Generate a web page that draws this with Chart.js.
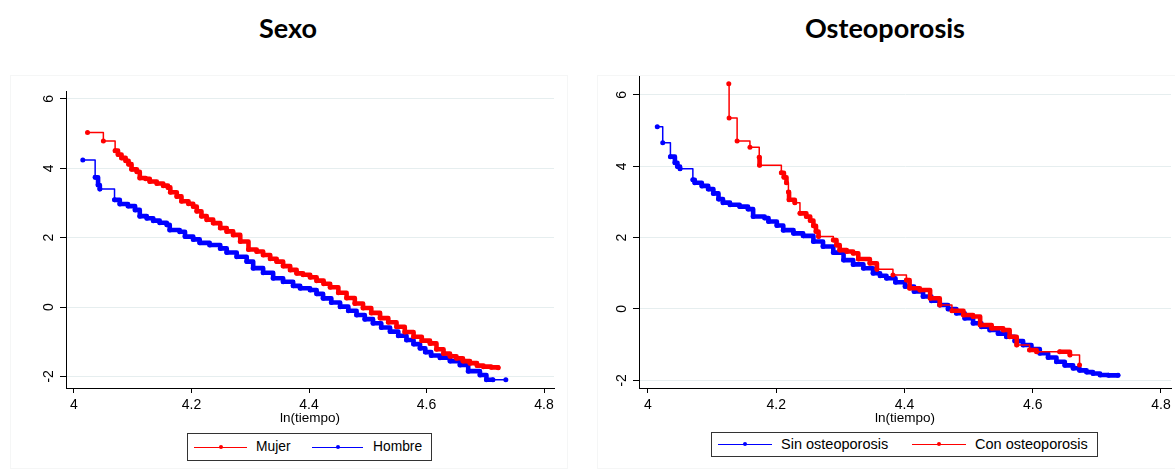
<!DOCTYPE html>
<html>
<head>
<meta charset="utf-8">
<script src="https://cdn.jsdelivr.net/npm/chart.js@4.4.1/dist/chart.umd.min.js"></script>
<style>
  html, body { margin: 0; padding: 0; background: #fff; }
  body { width: 1175px; height: 472px; position: relative; overflow: hidden; font-family: "Liberation Sans", Arial, sans-serif; }
  .frame { position: absolute; border: 1px solid #f5f6f6; box-sizing: border-box; }
  .title { position: absolute; top: 14px; font: bold 27px Lato, sans-serif; line-height: 27px; text-align: center; color: #000; }
  canvas { position: absolute; top: 0; }
  .legend { position: absolute; border: 1px solid #333; box-sizing: border-box; background: #fff; }
  .key { position: absolute; height: 0; border-top: 1.5px solid; }
  .key::after { content: ""; position: absolute; left: 50%; top: -3px; width: 4px; height: 4px; margin-left: -2px; border-radius: 50%; background: currentColor; }
  .lbl { position: absolute; line-height: 16px; color: #000; white-space: nowrap; }
</style>
</head>
<body>
<div class="frame" style="left:10px; top:75px; width:558px; height:394px;"></div>
<div class="frame" style="left:597px; top:75px; width:590px; height:394px;"></div>

<div class="title" style="left:0; width:576px;">Sexo</div>
<div class="title" style="left:598px; width:574px;">Osteoporosis</div>

<canvas id="sexo" width="587" height="430" style="left:0;"></canvas>
<canvas id="osteo" width="588" height="430" style="left:587px;"></canvas>

<div class="legend" style="left:187px; top:433px; width:245px; height:28px; font-size:13.8px;">
  <span class="key" style="left:6px; top:13px; width:53px; color:#ff0000;"></span>
  <span class="lbl" style="left:68px; top:5px;">Mujer</span>
  <span class="key" style="left:124px; top:13px; width:51px; color:#0000ff;"></span>
  <span class="lbl" style="left:185px; top:5px;">Hombre</span>
</div>
<div class="legend" style="left:711px; top:432px; width:387px; height:25px; font-size:14.5px;">
  <span class="key" style="left:6px; top:11px; width:54px; color:#0000ff;"></span>
  <span class="lbl" style="left:69px; top:3px;">Sin osteoporosis</span>
  <span class="key" style="left:200px; top:11px; width:54px; color:#ff0000;"></span>
  <span class="lbl" style="left:263px; top:3px;">Con osteoporosis</span>
</div>

<script>
// -ln(-ln S) against ln(tiempo)
const mujerX = [4.023, 4.050, 4.070, 4.075, 4.081, 4.088, 4.093, 4.098, 4.107, 4.112,
  4.122, 4.129, 4.141, 4.152, 4.160, 4.164, 4.175, 4.183, 4.195, 4.203,
  4.209, 4.217, 4.226, 4.237, 4.249, 4.260, 4.271, 4.283, 4.297, 4.311,
  4.322, 4.334, 4.345, 4.356, 4.368, 4.379, 4.390, 4.402, 4.413, 4.425,
  4.436, 4.450, 4.464, 4.478, 4.492, 4.506, 4.521, 4.535, 4.549, 4.563,
  4.578, 4.592, 4.606, 4.617, 4.629, 4.640, 4.651, 4.662, 4.674, 4.686,
  4.697, 4.710, 4.722]
const mujerY = [5.03, 4.79, 4.51, 4.40, 4.30, 4.22, 4.12, 3.97, 3.90, 3.72,
  3.70, 3.62, 3.56, 3.50, 3.45, 3.31, 3.19, 3.05, 2.98, 2.90,
  2.76, 2.62, 2.52, 2.42, 2.28, 2.18, 2.08, 1.89, 1.66, 1.60,
  1.50, 1.39, 1.31, 1.18, 1.07, 0.97, 0.93, 0.86, 0.76, 0.67,
  0.57, 0.41, 0.26, 0.10, -0.03, -0.17, -0.32, -0.44, -0.57, -0.72,
  -0.86, -0.97, -1.05, -1.22, -1.34, -1.42, -1.48, -1.56, -1.62, -1.69,
  -1.72, -1.74, -1.75]

const hombreX = [4.015, 4.036, 4.041, 4.044, 4.069, 4.078, 4.092, 4.104, 4.112, 4.124,
  4.135, 4.146, 4.158, 4.163, 4.180, 4.189, 4.203, 4.214, 4.231, 4.249,
  4.260, 4.277, 4.294, 4.305, 4.322, 4.339, 4.356, 4.373, 4.385, 4.402,
  4.413, 4.424, 4.438, 4.453, 4.467, 4.481, 4.495, 4.509, 4.523, 4.538,
  4.552, 4.566, 4.578, 4.589, 4.598, 4.608, 4.623, 4.640, 4.657, 4.671,
  4.691, 4.702, 4.713, 4.735]
const hombreY = [4.24, 3.74, 3.52, 3.40, 3.09, 2.97, 2.91, 2.80, 2.62, 2.56,
  2.49, 2.43, 2.37, 2.22, 2.17, 2.03, 1.95, 1.85, 1.79, 1.69,
  1.57, 1.45, 1.31, 1.12, 0.99, 0.83, 0.73, 0.61, 0.54, 0.49,
  0.38, 0.25, 0.13, 0.01, -0.11, -0.23, -0.35, -0.47, -0.59, -0.71,
  -0.83, -0.95, -1.07, -1.19, -1.30, -1.40, -1.46, -1.56, -1.67, -1.85,
  -1.96, -2.10, -2.10, -2.10]

const sinOsteoX = [4.0145, 4.023, 4.035, 4.042, 4.046, 4.050, 4.070, 4.073, 4.084, 4.094,
  4.102, 4.110, 4.117, 4.128, 4.143, 4.156, 4.164, 4.182, 4.188, 4.201,
  4.211, 4.227, 4.242, 4.258, 4.273, 4.289, 4.305, 4.320, 4.336, 4.351,
  4.362, 4.372, 4.386, 4.401, 4.415, 4.429, 4.442, 4.455, 4.468, 4.481,
  4.494, 4.507, 4.520, 4.533, 4.546, 4.559, 4.572, 4.585, 4.598, 4.611,
  4.624, 4.637, 4.650, 4.663, 4.673, 4.684, 4.694, 4.705, 4.718, 4.733]
const sinOsteoY = [5.11, 4.66, 4.27, 4.10, 3.99, 3.93, 3.62, 3.54, 3.45, 3.36,
  3.24, 3.08, 2.98, 2.92, 2.87, 2.80, 2.59, 2.55, 2.45, 2.34,
  2.21, 2.12, 2.05, 1.89, 1.75, 1.58, 1.37, 1.25, 1.14, 1.00,
  0.93, 0.86, 0.75, 0.63, 0.49, 0.35, 0.23, 0.11, 0.00, -0.12,
  -0.26, -0.40, -0.50, -0.59, -0.69, -0.78, -0.90, -1.01, -1.12, -1.24,
  -1.36, -1.48, -1.58, -1.66, -1.72, -1.77, -1.81, -1.85, -1.86, -1.86]

const conOsteoX = [4.126, 4.1265, 4.139, 4.159, 4.1735, 4.174, 4.208, 4.212, 4.216, 4.219,
  4.220, 4.229, 4.237, 4.247, 4.253, 4.258, 4.262, 4.266, 4.289, 4.294,
  4.299, 4.310, 4.320, 4.328, 4.346, 4.357, 4.382, 4.403, 4.408, 4.424,
  4.440, 4.455, 4.474, 4.492, 4.507, 4.518, 4.536, 4.554, 4.564, 4.575,
  4.595, 4.606, 4.642, 4.658, 4.673]
const conOsteoY = [6.31, 5.35, 4.71, 4.53, 4.25, 4.03, 3.82, 3.69, 3.54, 3.28,
  3.06, 2.98, 2.68, 2.59, 2.48, 2.33, 2.17, 2.03, 1.93, 1.79,
  1.65, 1.61, 1.56, 1.40, 1.28, 1.11, 0.95, 0.81, 0.58, 0.53,
  0.30, 0.11, -0.05, -0.17, -0.21, -0.45, -0.54, -0.59, -0.78, -1.01,
  -1.15, -1.20, -1.20, -1.29, -1.57]

const xTicks = [4, 4.2, 4.4, 4.6, 4.8]
const yTicks = [-2, 0, 2, 4, 6]

const RED = "#ff0000"
const BLUE = "#0000ff"

function points(xs, ys) {
  return xs.slice(0, ys.length).map((x, i) => ({ x, y: ys[i] }))
}

function series(label, xs, ys, color) {
  return {
    label,
    data: points(xs, ys),
    borderColor: color,
    backgroundColor: color,
    pointBackgroundColor: color,
    pointBorderWidth: 0,
    pointRadius: 2.5,
    pointHoverRadius: 0,
    borderWidth: 1.5,
    borderJoinStyle: "round",
    borderCapStyle: "round",
    stepped: true,
    fill: false,
    // closely spaced steps blur into a heavy band in the original
    segment: {
      borderWidth: (c) => (Math.abs(c.p1.x - c.p0.x) < 12 && Math.abs(c.p1.y - c.p0.y) < 9 ? 4.6 : 1.5)
    }
  }
}

function panel(id, datasets, { xMin, xMax, yMin, yMax, yAxisWidth, padTop, padRight }) {
  const tickFont = { family: "Liberation Sans", size: 14 }
  return new Chart(document.getElementById(id), {
    type: "line",
    data: { datasets },
    options: {
      responsive: false,
      animation: false,
      events: [],
      layout: { padding: { top: padTop, right: padRight, left: 0, bottom: 0 } },
      plugins: { legend: { display: false }, tooltip: { enabled: false } },
      scales: {
        x: {
          type: "linear",
          min: xMin,
          max: xMax,
          afterBuildTicks: (s) => { s.ticks = xTicks.map((value) => ({ value })) },
          afterFit: (s) => { s.height = 42 },
          grid: { drawOnChartArea: false, drawTicks: true, tickLength: 5, tickColor: "#000" },
          border: { color: "#000", width: 1 },
          ticks: { color: "#000", font: tickFont, padding: 3.5, maxRotation: 0, autoSkip: false, callback: (v) => String(v) },
          title: {
            display: true,
            text: "ln(tiempo)",
            color: "#000",
            font: { family: "Liberation Sans", size: 13.5, lineHeight: 1.2 },
            padding: { top: 0, bottom: 4 }
          }
        },
        y: {
          type: "linear",
          min: yMin,
          max: yMax,
          afterBuildTicks: (s) => { s.ticks = yTicks.map((value) => ({ value })) },
          afterFit: (s) => { s.width = yAxisWidth },
          grid: { color: "#e6eeef", tickColor: "#000", tickLength: 6, drawTicks: true },
          border: { color: "#000", width: 1 },
          ticks: {
            color: "#000", font: tickFont, minRotation: 90, maxRotation: 90,
            crossAlign: "center", padding: 5, autoSkip: false, callback: (v) => String(v)
          }
        }
      }
    }
  })
}

panel("sexo", [
  series("Mujer", mujerX, mujerY, RED),
  series("Hombre", hombreX, hombreY, BLUE)
], { xMin: 3.9864, xMax: 4.817, yMin: -2.336, yMax: 6.23, yAxisWidth: 66, padTop: 91, padRight: 33 })

panel("osteo", [
  series("Con osteoporosis", conOsteoX, conOsteoY, RED),
  series("Sin osteoporosis", sinOsteoX, sinOsteoY, BLUE)
], { xMin: 3.986, xMax: 4.8156, yMin: -2.215, yMax: 6.53, yAxisWidth: 52, padTop: 76, padRight: 4 })
</script>
</body>
</html>
